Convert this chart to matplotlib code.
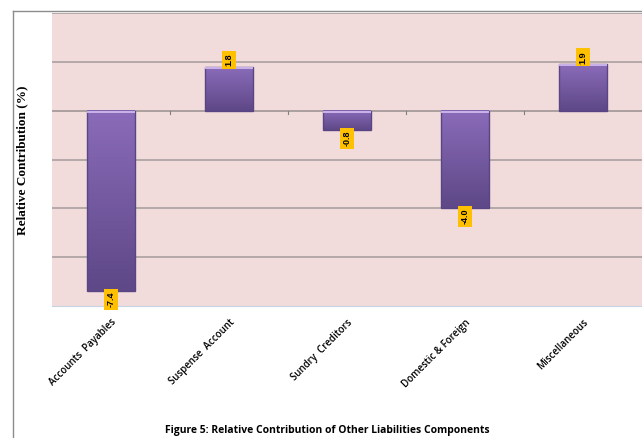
import numpy as np
import matplotlib.pyplot as plt
from matplotlib.patches import Rectangle
from matplotlib.lines import Line2D
from matplotlib.colors import LinearSegmentedColormap

categories = ['Accounts  Payables', 'Suspense  Account', 'Sundry  Creditors',
              'Domestic & Foreign', 'Miscellaneous']
values = [-7.4, 1.8, -0.8, -4.0, 1.9]

fig = plt.figure(figsize=(6.42, 4.38), dpi=100)
W, H = 642, 438

# outer frame (chart area border)
fig.add_artist(Line2D([13 / W, 13 / W], [0, 1 - 11 / H], color='#8c8c8c', lw=1))
fig.add_artist(Line2D([13 / W, 1], [1 - 11 / H, 1 - 11 / H], color='#8c8c8c', lw=1))

ax = fig.add_axes([52 / W, 1 - 306 / H, 590 / W, (306 - 13) / H])
ax.set_facecolor('#f2dcdb')

x = np.arange(len(categories))

for g in [4, 2, -2, -4, -6]:
    ax.axhline(g, color='#ab9f9f', lw=1.2, zorder=1)
ax.axhline(0, color='#9f9595', lw=1.2, zorder=1)
# small tick marks on the category axis
for b in np.arange(0.5, len(categories) - 0.5, 1):
    ax.plot([b, b], [0, -0.12], color='#808080', lw=0.8, zorder=1)

bars = ax.bar(x, values, width=0.4, color='none', edgecolor='#5a4584',
              linewidth=1.0, zorder=4)
grad = LinearSegmentedColormap.from_list('g', ['#5e4887', '#8a6bb9'])
for b, v in zip(bars, values):
    x0, w = b.get_x(), b.get_width()
    y0, y1 = min(v, 0), max(v, 0)
    ax.imshow(np.linspace(0, 1, 64).reshape(-1, 1), cmap=grad, origin='lower',
              extent=[x0, x0 + w, y0, y1], aspect='auto', zorder=3)
    # lighter bevel at the top edge
    ax.add_patch(Rectangle((x0, y1 - 0.09), w, 0.09, color='#c8b1e6',
                           zorder=4, lw=0))

for xi, v in zip(x, values):
    off = 0.02 if v > 0 else -0.02
    ax.text(xi, v + off, f'{v:.1f}', rotation=90, ha='center',
            va='bottom' if v > 0 else 'top', fontsize=6.5, fontweight='bold',
            family='Liberation Sans',
            bbox=dict(boxstyle='square,pad=0.3', fc='#ffc000', ec='none'),
            zorder=5)

ax.set_xlim(-0.5, len(categories) - 0.5)
ax.set_ylim(-8, 4)
ax.set_xticks(x)
ax.set_xticklabels(categories, rotation=45, ha='right', va='top',
                   rotation_mode='anchor', fontsize=7, fontweight='semibold',
                   family='Open Sans')
ax.tick_params(axis='x', length=0, pad=8)
ax.set_yticks([])
for s in ['top', 'left', 'right']:
    ax.spines[s].set_visible(False)
ax.spines['bottom'].set_color('#c5d3e3')

fig.text(22 / W, 1 - 160 / H, 'Relative Contribution (%)', rotation=90,
         ha='center', va='center', fontsize=9.5, fontweight='bold',
         family='Liberation Serif')
fig.text(327 / W, 1 - 431 / H,
         'Figure 5: Relative Contribution of Other Liabilities Components',
         ha='center', va='center', fontsize=7.5, fontweight='bold',
         family='Open Sans')

fig.savefig('out.png', dpi=100)
